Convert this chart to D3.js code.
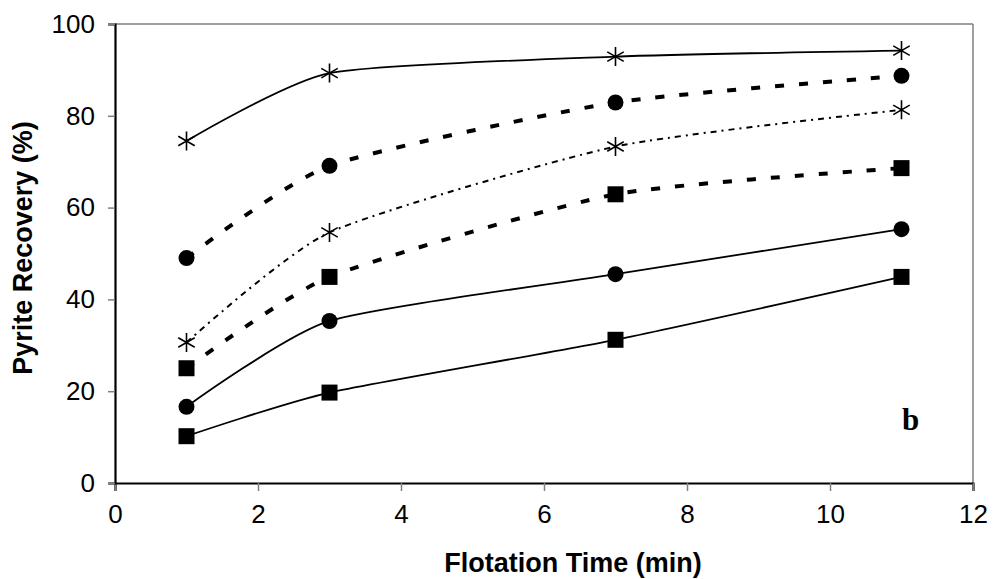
<!DOCTYPE html>
<html>
<head>
<meta charset="utf-8">
<script src="https://cdn.jsdelivr.net/npm/d3@7"></script>
<style>
  body { margin: 0; background: #fff; }
  text { font-family: "Liberation Sans", Arial, sans-serif; fill: #000; }
</style>
</head>
<body>
<div id="chart"></div>
<script>
var width = 993;
var height = 579;

// Data
var times = [1, 3, 7, 11];
var xTicks = [0, 2, 4, 6, 8, 10, 12];
var yTicks = [0, 20, 40, 60, 80, 100];

var starSolid = [74.5, 89.3, 92.9, 94.2];
var circleDashed = [49.0, 69.1, 82.9, 88.7];
var starDotted = [30.6, 54.6, 73.3, 81.3];
var squareDashed = [25.0, 44.9, 62.9, 68.6];
var circleSolid = [16.6, 35.3, 45.5, 55.3];
var squareSolid = [10.2, 19.7, 31.2, 44.9];

var series = [
  { values: starSolid, marker: "star", line: "solid" },
  { values: circleDashed, marker: "circle", line: "dashed" },
  { values: starDotted, marker: "star", line: "dotted" },
  { values: squareDashed, marker: "square", line: "dashed" },
  { values: circleSolid, marker: "circle", line: "solid" },
  { values: squareSolid, marker: "square", line: "solid" }
];

var margin = { top: 24, right: 20, bottom: 96, left: 115 };

var svg = d3
  .select("#chart")
  .append("svg")
  .attr("width", width)
  .attr("height", height);

var xScale = d3.scaleLinear().domain([0, 12]).range([margin.left, width - margin.right]);
var yScale = d3.scaleLinear().domain([0, 100]).range([height - margin.bottom, margin.top]);

// Part 1: frame (grey top/right, black left/bottom)
svg.append("line")
  .attr("x1", xScale(0)).attr("x2", xScale(12))
  .attr("y1", yScale(100)).attr("y2", yScale(100))
  .attr("stroke", "#7f7f7f").attr("stroke-width", 1.5);
svg.append("line")
  .attr("x1", xScale(12)).attr("x2", xScale(12))
  .attr("y1", yScale(100)).attr("y2", yScale(0))
  .attr("stroke", "#7f7f7f").attr("stroke-width", 1.5);

// Part 2: axes
var xAxis = d3.axisBottom(xScale).tickValues(xTicks).tickSize(8).tickPadding(14);
var gx = svg.append("g")
  .attr("transform", "translate(0," + yScale(0) + ")")
  .call(xAxis);

var yAxis = d3.axisLeft(yScale).tickValues(yTicks).tickSize(7).tickPadding(13);
var gy = svg.append("g")
  .attr("transform", "translate(" + xScale(0) + ",0)")
  .call(yAxis);

[gx, gy].forEach(function (g) {
  g.select(".domain").attr("stroke", "#000").attr("stroke-width", 2.2);
  g.selectAll(".tick line").attr("stroke", "#7f7f7f").attr("stroke-width", 1.5);
  g.selectAll(".tick text")
    .attr("font-size", 26)
    .attr("fill", "#000");
});

// Part 3: lines (smoothed like the spreadsheet original)
var lineGen = d3.line()
  .x(function (d, i) { return xScale(times[i]); })
  .y(function (d) { return yScale(d); })
  .curve(d3.curveCardinal.tension(0.4));

var styles = {
  solid: { width: 1.8, dash: null },
  dashed: { width: 4, dash: "9,15" },
  dotted: { width: 2, dash: "6,5,2,5" }
};

series.forEach(function (s) {
  svg.append("path")
    .datum(s.values)
    .attr("d", lineGen)
    .attr("fill", "none")
    .attr("stroke", "#000")
    .attr("stroke-width", styles[s.line].width)
    .attr("stroke-dasharray", styles[s.line].dash);
});

// Part 4: markers
series.forEach(function (s) {
  var g = svg.append("g");
  s.values.forEach(function (v, i) {
    var cx = xScale(times[i]);
    var cy = yScale(v);
    if (s.marker === "square") {
      g.append("rect")
        .attr("x", cx - 8).attr("y", cy - 8)
        .attr("width", 16).attr("height", 16)
        .attr("fill", "#000");
    } else if (s.marker === "circle") {
      g.append("circle")
        .attr("cx", cx).attr("cy", cy).attr("r", 8)
        .attr("fill", "#000");
    } else {
      var r = 9.5;
      var dx = r * Math.cos(Math.PI / 6);
      var dy = r * Math.sin(Math.PI / 6);
      g.append("path")
        .attr("d",
          "M" + cx + "," + (cy - r) + "L" + cx + "," + (cy + r) +
          "M" + (cx - dx) + "," + (cy - dy) + "L" + (cx + dx) + "," + (cy + dy) +
          "M" + (cx - dx) + "," + (cy + dy) + "L" + (cx + dx) + "," + (cy - dy))
        .attr("stroke", "#000")
        .attr("stroke-width", 1.6)
        .attr("fill", "none");
    }
  });
});

// Part 5: labels
svg.append("text")
  .attr("x", 573)
  .attr("y", 572)
  .attr("text-anchor", "middle")
  .attr("font-size", 27)
  .attr("font-weight", "bold")
  .text("Flotation Time (min)");

svg.append("text")
  .attr("transform", "translate(32,248)rotate(-90)")
  .attr("text-anchor", "middle")
  .attr("font-size", 27)
  .attr("font-weight", "bold")
  .text("Pyrite Recovery (%)");

svg.append("text")
  .attr("x", 902)
  .attr("y", 430)
  .style("font-family", "'Liberation Serif', 'Times New Roman', serif")
  .attr("font-size", 31)
  .attr("font-weight", "bold")
  .text("b");
</script>
</body>
</html>
